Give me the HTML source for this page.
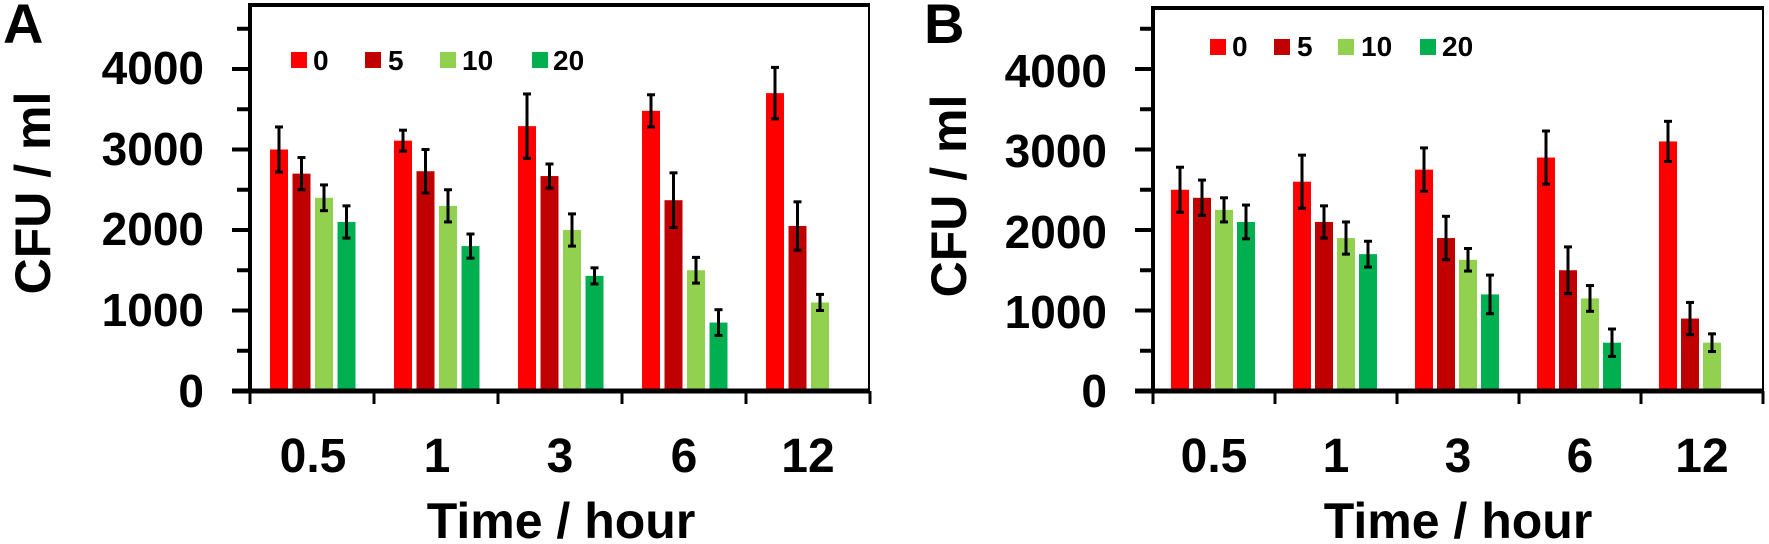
<!DOCTYPE html>
<html><head><meta charset="utf-8"><style>
html,body{margin:0;padding:0;background:#fff;}
svg{display:block;font-family:"Liberation Sans",Arial,sans-serif;font-weight:bold;}
</style></head><body>
<svg id="s" width="1769" height="544" viewBox="0 0 1769 544" xmlns="http://www.w3.org/2000/svg">
<rect width="1769" height="544" fill="#fff"/>
<g id="bars"></g>
<g stroke="#000" fill="none">
<line x1="250" y1="5" x2="250" y2="393" stroke-width="4"/>
<line x1="248" y1="5" x2="870" y2="5" stroke-width="4"/>
<line x1="869" y1="5" x2="869" y2="393" stroke-width="2"/>
<line x1="232" y1="391" x2="870" y2="391" stroke-width="5"/>
<line x1="1153" y1="8" x2="1153" y2="393" stroke-width="4"/>
<line x1="1151" y1="8" x2="1764" y2="8" stroke-width="4"/>
<line x1="1763" y1="8" x2="1763" y2="393" stroke-width="2"/>
<line x1="1135" y1="391" x2="1764" y2="391" stroke-width="5"/>
</g>
<g id="ticks" stroke="#000" stroke-width="4"></g>
<g font-size="46" text-anchor="end" fill="#000">
<text x="204" y="84">4000</text><text x="204" y="165">3000</text><text x="204" y="245">2000</text><text x="204" y="326">1000</text><text x="204" y="407">0</text>
<text x="1107" y="87">4000</text><text x="1107" y="167">3000</text><text x="1107" y="248">2000</text><text x="1107" y="328">1000</text><text x="1107" y="407">0</text>
</g>
<g font-size="48" text-anchor="middle" fill="#000">
<text x="313" y="472">0.5</text><text x="437" y="472">1</text><text x="560" y="472">3</text><text x="684" y="472">6</text><text x="808" y="472">12</text>
<text x="1214" y="472">0.5</text><text x="1336" y="472">1</text><text x="1458" y="472">3</text><text x="1580" y="472">6</text><text x="1702" y="472">12</text>
</g>
<g font-size="50" text-anchor="middle" fill="#000">
<text x="561" y="538">Time / hour</text>
<text x="1458" y="538">Time / hour</text>
<text transform="translate(50,193) rotate(-90)">CFU / ml</text>
<text transform="translate(966,196) rotate(-90)">CFU / ml</text>
</g>
<g font-size="56" fill="#000">
<text x="3" y="43">A</text>
<text x="924" y="43">B</text>
</g>
<g font-size="28" fill="#000">
<rect x="291" y="52" width="16" height="16" fill="#FF0000"/><text x="313" y="70">0</text>
<rect x="365" y="52" width="16" height="16" fill="#C00000"/><text x="388" y="70">5</text>
<rect x="440" y="52" width="16" height="16" fill="#92D050"/><text x="462" y="70">10</text>
<rect x="532" y="52" width="16" height="16" fill="#00B050"/><text x="553" y="70">20</text>
<rect x="1210" y="39" width="16" height="16" fill="#FF0000"/><text x="1232" y="56">0</text>
<rect x="1274" y="39" width="16" height="16" fill="#C00000"/><text x="1297" y="56">5</text>
<rect x="1338" y="39" width="16" height="16" fill="#92D050"/><text x="1361" y="56">10</text>
<rect x="1420" y="39" width="16" height="16" fill="#00B050"/><text x="1442" y="56">20</text>
</g>
</svg>
<script>
var NS="http://www.w3.org/2000/svg";
var cols=["#FF0000","#C00000","#92D050","#00B050"];
function el(p,n,a){var e=document.createElementNS(NS,n);for(var k in a)e.setAttribute(k,a[k]);p.appendChild(e);return e;}
var bars=document.getElementById("bars"),ticks=document.getElementById("ticks");
var panels=[
 {x0:250,cw:124,off:20,pitch:22.5,top:5,data:[[3000,280,2700,200,2400,160,2100,200],[3110,130,2730,270,2300,200,1800,150],[3290,400,2670,150,2000,200,1430,100],[3480,200,2370,340,1500,160,850,160],[3700,320,2050,300,1100,100,20,0]]},
 {x0:1153,cw:122,off:18,pitch:22,top:8,data:[[2500,280,2400,220,2250,150,2100,210],[2600,330,2100,200,1900,200,1700,160],[2750,270,1900,270,1630,140,1200,240],[2900,330,1500,290,1150,160,600,170],[3100,250,900,200,600,110,20,0]]}
];
function Y(v){return 391-v*0.0805;}
panels.forEach(function(p){
 p.data.forEach(function(g,i){
  for(var j=0;j<4;j++){
   var v=g[2*j],e=g[2*j+1];
   var x=p.x0+p.cw*i+p.off+p.pitch*j;
   el(bars,"rect",{x:x,y:Y(v),width:18,height:391-Y(v),fill:cols[j]});
   if(e>0){var cx=x+9;
    el(bars,"line",{x1:cx,y1:Y(v+e),x2:cx,y2:Y(v-e),stroke:"#000","stroke-width":3});
    el(bars,"line",{x1:cx-4,y1:Y(v+e),x2:cx+4,y2:Y(v+e),stroke:"#000","stroke-width":3});
    el(bars,"line",{x1:cx-4,y1:Y(v-e),x2:cx+4,y2:Y(v-e),stroke:"#000","stroke-width":3});}
  }
 });
 for(var k=1;k<=9;k++){var y=Y(k*500);if(y<p.top+3)continue;
  el(ticks,"line",{x1:p.x0-(k%2?13:18),y1:y,x2:p.x0,y2:y});}
 for(var i=0;i<=5;i++){var x=p.x0+p.cw*i;el(ticks,"line",{x1:x,y1:391,x2:x,y2:404,"stroke-width":3});}
});
</script>
</body></html>
